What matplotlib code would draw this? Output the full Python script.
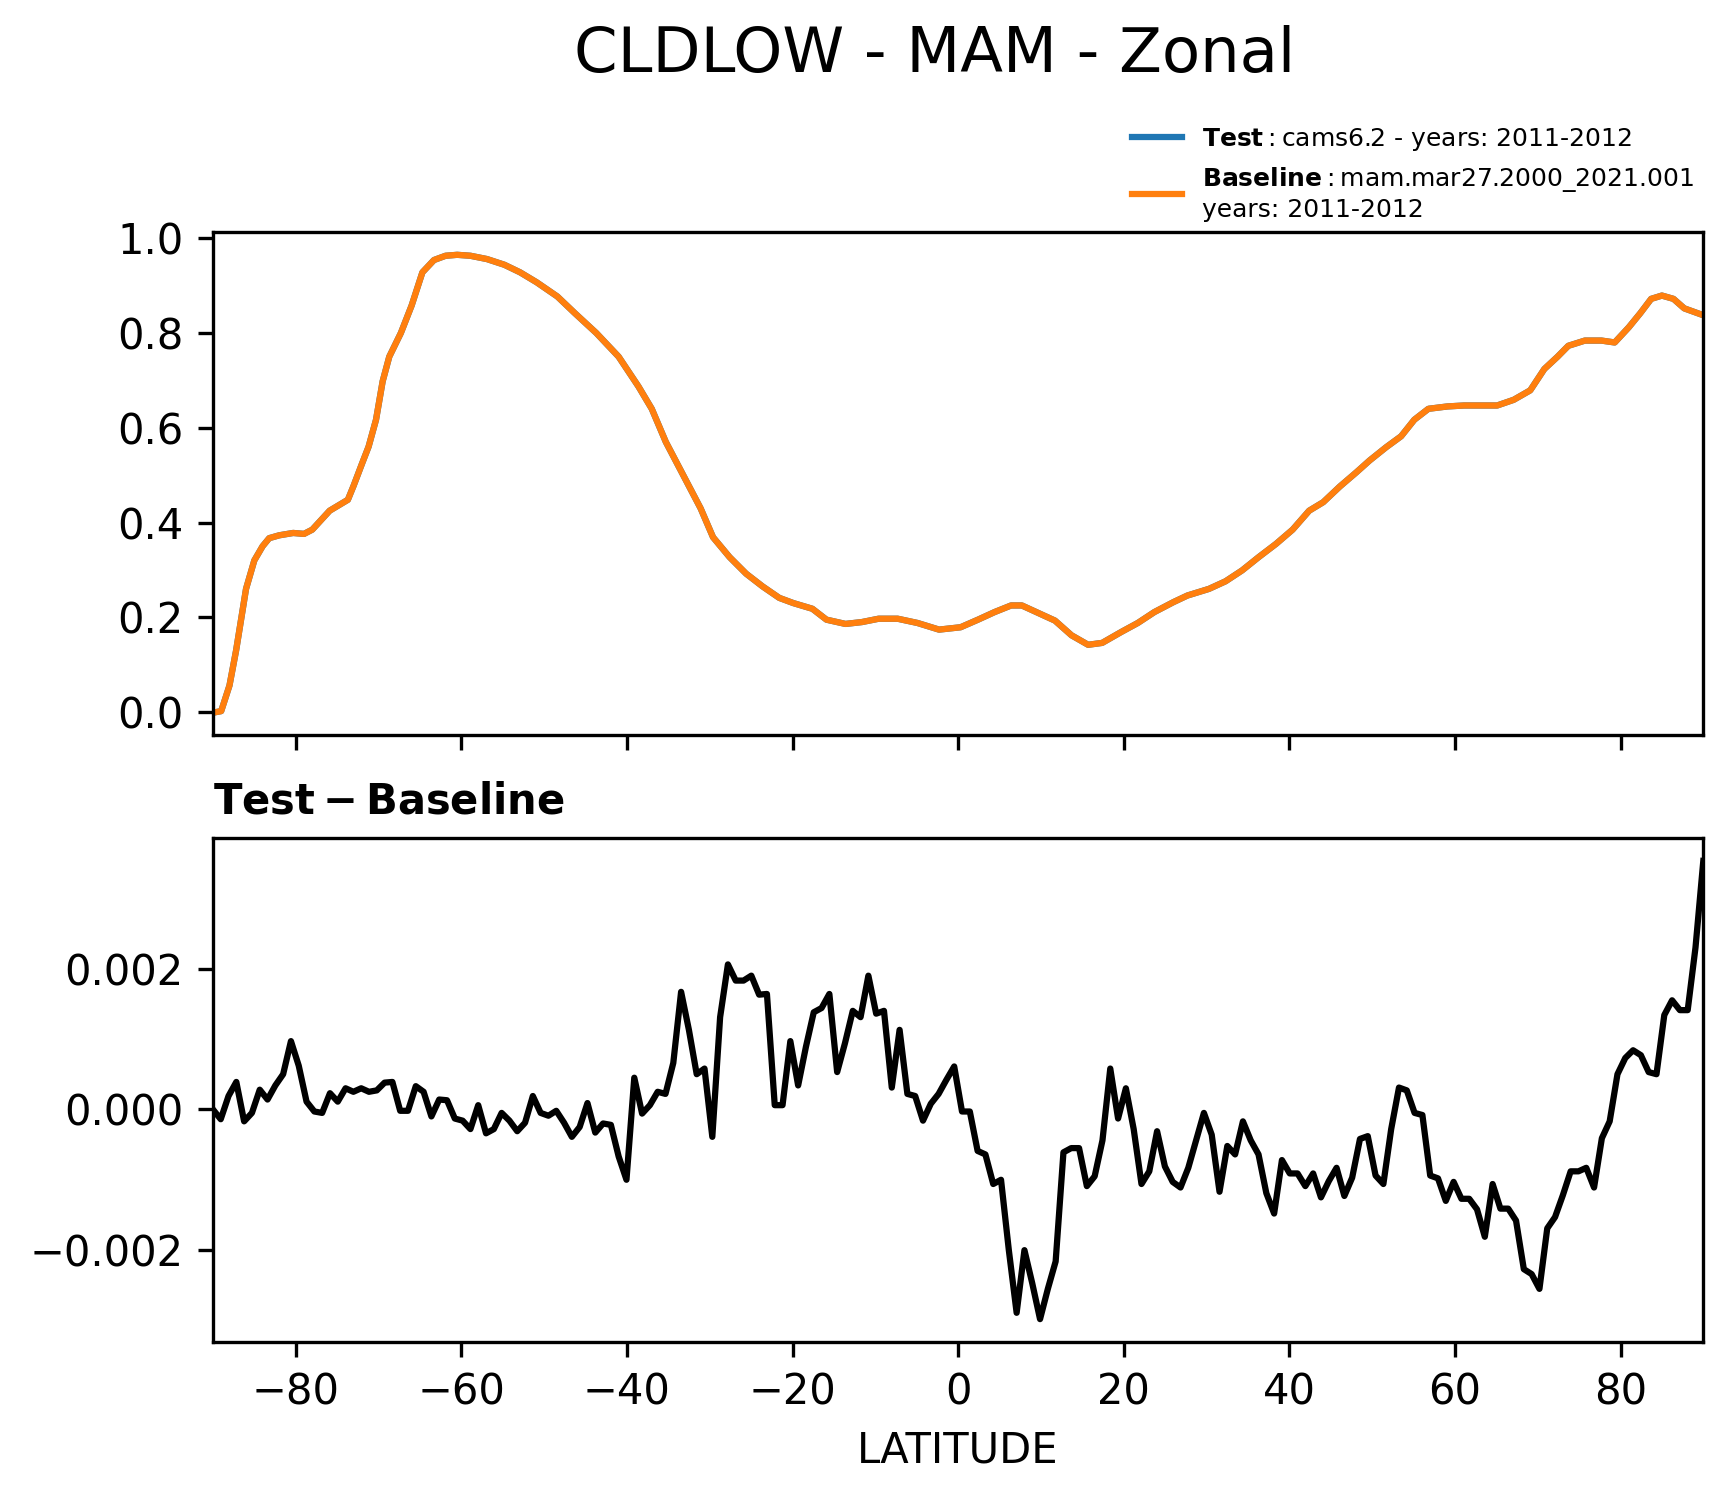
import numpy as np
import matplotlib.pyplot as plt

# Baseline zonal mean of low cloud fraction (MAM)
base_lat = [-89.6, -89.0, -88.0, -87.2, -86.0, -85.0, -84.0, -83.2, -82.0, -80.3,
            -79.0, -78.0, -75.9, -73.7, -73.0, -72.0, -71.2, -70.3, -69.5, -68.7,
            -67.3, -66.0, -64.7, -63.3, -61.9, -60.5, -58.9, -56.9, -54.8, -52.9,
            -50.9, -48.4, -46.3, -43.7, -41.0, -38.6, -37.0, -35.3, -33.2, -31.1,
            -29.6, -27.6, -25.6, -23.6, -21.6, -19.9, -17.6, -15.9, -13.6, -11.6,
            -9.6, -7.3, -4.9, -2.3, 0.3, 2.4, 4.4, 6.4, 7.7, 9.7,
            11.7, 13.7, 15.7, 17.4, 19.7, 21.7, 23.7, 26.0, 27.7, 30.3,
            32.3, 34.3, 36.3, 38.4, 40.4, 42.4, 44.1, 46.1, 48.1, 49.7,
            51.7, 53.5, 55.1, 56.8, 59.1, 61.1, 63.1, 65.1, 67.1, 69.1,
            70.8, 72.4, 73.7, 75.7, 77.7, 79.3, 81.0, 82.4, 83.7, 85.0,
            86.4, 87.7, 89.6]
base_vals = [0.000, 0.002, 0.056, 0.130, 0.260, 0.320, 0.350, 0.367, 0.373, 0.378,
             0.376, 0.385, 0.425, 0.448, 0.478, 0.524, 0.560, 0.617, 0.698, 0.750,
             0.800, 0.858, 0.928, 0.954, 0.963, 0.965, 0.963, 0.956, 0.944, 0.928,
             0.907, 0.877, 0.842, 0.800, 0.750, 0.687, 0.640, 0.570, 0.500, 0.430,
             0.369, 0.327, 0.292, 0.265, 0.241, 0.230, 0.218, 0.195, 0.186, 0.190,
             0.197, 0.197, 0.188, 0.174, 0.179, 0.195, 0.211, 0.225, 0.225, 0.209,
             0.193, 0.162, 0.142, 0.146, 0.169, 0.188, 0.211, 0.232, 0.246, 0.260,
             0.276, 0.299, 0.327, 0.355, 0.385, 0.425, 0.443, 0.476, 0.506, 0.531,
             0.559, 0.582, 0.617, 0.640, 0.645, 0.647, 0.647, 0.647, 0.659, 0.679,
             0.724, 0.750, 0.773, 0.784, 0.784, 0.780, 0.812, 0.842, 0.872, 0.879,
             0.872, 0.852, 0.840]
# Test is visually identical to baseline at this scale
test_vals = list(base_vals)

# Test - Baseline difference on the model latitude grid
diff_vals = [0.00000, -0.00014, 0.00019, 0.00039, -0.00017, -0.00005, 0.00028, 0.00014, 0.00034, 0.00050,
             0.00097, 0.00062, 0.00011, -0.00003, -0.00005, 0.00023, 0.00011, 0.00030, 0.00025, 0.00030,
             0.00025, 0.00027, 0.00038, 0.00039, -0.00002, -0.00002, 0.00033, 0.00025, -0.00010, 0.00014,
             0.00013, -0.00013, -0.00016, -0.00028, 0.00006, -0.00034, -0.00028, -0.00005, -0.00016, -0.00031,
             -0.00019, 0.00019, -0.00005, -0.00009, -0.00002, -0.00019, -0.00039, -0.00025, 0.00009, -0.00033,
             -0.00020, -0.00022, -0.00067, -0.00100, 0.00045, -0.00006, 0.00006, 0.00025, 0.00022, 0.00066,
             0.00167, 0.00113, 0.00050, 0.00058, -0.00039, 0.00131, 0.00206, 0.00183, 0.00183, 0.00190,
             0.00163, 0.00164, 0.00006, 0.00006, 0.00097, 0.00034, 0.00089, 0.00138, 0.00144, 0.00164,
             0.00053, 0.00094, 0.00140, 0.00131, 0.00190, 0.00136, 0.00140, 0.00031, 0.00113, 0.00022,
             0.00019, -0.00016, 0.00008, 0.00022, 0.00042, 0.00061, -0.00003, -0.00003, -0.00059, -0.00064,
             -0.00106, -0.00100, -0.00200, -0.00289, -0.00200, -0.00247, -0.00298, -0.00255, -0.00216, -0.00061,
             -0.00055, -0.00055, -0.00109, -0.00095, -0.00044, 0.00058, -0.00013, 0.00030, -0.00028, -0.00106,
             -0.00088, -0.00031, -0.00081, -0.00103, -0.00111, -0.00083, -0.00044, -0.00005, -0.00036, -0.00117,
             -0.00052, -0.00064, -0.00017, -0.00044, -0.00064, -0.00119, -0.00148, -0.00072, -0.00091, -0.00091,
             -0.00109, -0.00091, -0.00125, -0.00102, -0.00083, -0.00123, -0.00097, -0.00042, -0.00038, -0.00094,
             -0.00106, -0.00028, 0.00031, 0.00027, -0.00005, -0.00008, -0.00094, -0.00098, -0.00130, -0.00103,
             -0.00127, -0.00127, -0.00142, -0.00181, -0.00106, -0.00141, -0.00141, -0.00158, -0.00227, -0.00234,
             -0.00255, -0.00169, -0.00153, -0.00122, -0.00088, -0.00088, -0.00083, -0.00111, -0.00041, -0.00017,
             0.00050, 0.00073, 0.00084, 0.00077, 0.00053, 0.00050, 0.00134, 0.00155, 0.00141, 0.00141,
             0.00230, 0.00353]
diff_lat = np.linspace(-90, 90, len(diff_vals))

test_label = r"$\bf{Test}$$:$cams6.2 - years: 2011-2012"
base_label = r"$\bf{Baseline}$$:$mam.mar27.2000_2021.001" + "\nyears: 2011-2012"

fig = plt.figure(figsize=(5.77, 4.987), dpi=300)
ax1 = fig.add_axes([0.123, 0.5087, 0.861, 0.3362])
ax2 = fig.add_axes([0.123, 0.1029, 0.861, 0.3369])

ax1.plot(base_lat, test_vals, color='C0', linewidth=1.5, label=test_label)
ax1.plot(base_lat, base_vals, color='C1', linewidth=1.5, label=base_label)
ax1.set_xlim(-90, 90)
ax1.set_xticks(np.arange(-80, 81, 20))
ax1.set_xticklabels([])
ax1.legend(loc='lower right', bbox_to_anchor=(1.0, 1.0), frameon=False,
           fontsize=6, borderaxespad=0.0)

ax2.plot(diff_lat, diff_vals, color='k', linewidth=1.5)
ax2.set_xlim(-90, 90)
ax2.set_xticks(np.arange(-80, 81, 20))
ax2.set_xlabel('LATITUDE')
ax2.set_title(r"$\bf{Test - Baseline}$", loc='left', fontsize=10)

fig.text(0.540, 0.963, 'CLDLOW - MAM - Zonal', fontsize=15, ha='center', va='center')

fig.savefig('out.png', dpi=300)
